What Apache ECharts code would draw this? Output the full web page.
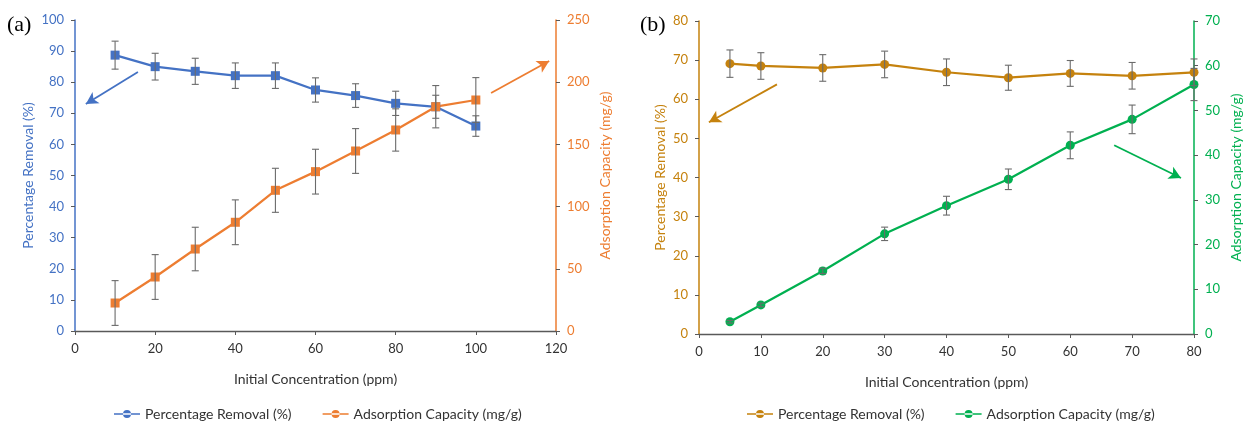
<!DOCTYPE html>
<html>
<head>
<meta charset="utf-8">
<script src="https://cdn.jsdelivr.net/npm/echarts@6/dist/echarts.min.js"></script>
<style>
html,body{margin:0;padding:0;background:#fff;}
#chart{width:1244px;height:425px;}
</style>
</head>
<body>
<div id="chart"></div>
<script>
// ---------- Data ----------
const concA = [10, 20, 30, 40, 50, 60, 70, 80, 90, 100];
const removalA = [88.7, 85.0, 83.5, 82.1, 82.1, 77.5, 75.7, 73.2, 72.1, 65.9];
const removalErrA = [4.5, 4.3, 4.2, 4.1, 4.1, 3.9, 3.8, 3.9, 3.7, 3.3];
const capacityA = [22.5, 43.4, 65.9, 87.4, 113.1, 128.1, 144.7, 161.6, 180.3, 185.7];
const capacityErrA = [18, 18, 17.5, 18, 17.7, 18, 18, 17, 17, 18];

const concB = [5, 10, 20, 30, 40, 50, 60, 70, 80];
const removalB = [69.1, 68.5, 68.0, 68.9, 66.9, 65.5, 66.6, 66.0, 66.9];
const removalErrB = [3.5, 3.4, 3.4, 3.4, 3.4, 3.2, 3.3, 3.4, 3.4];
const capacityB = [2.75, 6.5, 14.1, 22.4, 28.7, 34.6, 42.2, 48.0, 55.8];
const capacityErrB = [0.3, 0.4, 0.6, 1.5, 2.1, 2.3, 3.0, 3.2, 3.6];

const nameRemoval = 'Percentage Removal (%)';
const nameCapacity = 'Adsorption Capacity (mg/g)';
const xName = 'Initial Concentration (ppm)';
const panelLabels = ['(a)', '(b)'];

// annotation arrows (data coordinates)
const arrowRemovalA = [[15.7, 83.3], [2.7, 73.0]];
const arrowCapacityA = [[103.8, 191.3], [118.3, 217]];
const arrowRemovalB = [[12.6, 63.8], [1.6, 54.1]];
const arrowCapacityB = [[67.1, 42.2], [77.9, 34.9]];

// ---------- Style ----------
const FONT = 'Lato';
const cBlue = '#4472C4', cOrange = '#ED7D31', cBrown = '#C5820E', cGreen = '#00B050';
const cAxis = '#595959', cErr = '#6b6b6b';

const chart = echarts.init(document.getElementById('chart'), null, {renderer: 'canvas'});

function pairs(xs, ys) { return xs.map((x, i) => [x, ys[i]]); }
function errData(xs, ys, es) { return xs.map((x, i) => [x, ys[i] - es[i], ys[i] + es[i]]); }

function errSeries(xi, yi, data) {
  return {
    type: 'custom', xAxisIndex: xi, yAxisIndex: yi, silent: true, z: 5, clip: false,
    data: data,
    encode: {x: 0, y: [1, 2]},
    renderItem: function (params, api) {
      const lo = api.coord([api.value(0), api.value(1)]);
      const hi = api.coord([api.value(0), api.value(2)]);
      const w = 3.5;
      const st = {stroke: cErr, lineWidth: 1.1};
      return {type: 'group', children: [
        {type: 'line', shape: {x1: lo[0], y1: lo[1], x2: hi[0], y2: hi[1]}, style: st},
        {type: 'line', shape: {x1: lo[0] - w, y1: lo[1], x2: lo[0] + w, y2: lo[1]}, style: st},
        {type: 'line', shape: {x1: hi[0] - w, y1: hi[1], x2: hi[0] + w, y2: hi[1]}, style: st}
      ]};
    }
  };
}

function lineSeries(name, xi, yi, data, color, symbol, arrow) {
  return {
    name: name, type: 'line', xAxisIndex: xi, yAxisIndex: yi, data: data,
    symbol: symbol, symbolSize: 9, clip: false, z: 3,
    lineStyle: {color: color, width: 2.25},
    itemStyle: {color: color},
    emphasis: {disabled: true},
    markLine: {
      silent: true, symbol: ['none', 'arrow'], symbolSize: [10, 12],
      label: {show: false},
      lineStyle: {color: color, width: 1.8, type: 'solid'},
      data: [[{coord: arrow[0]}, {coord: arrow[1]}]]
    }
  };
}

function xAxisCfg(gi, max, interval) {
  return {
    type: 'value', gridIndex: gi, min: 0, max: max, interval: interval,
    name: xName, nameLocation: 'middle', nameGap: 41,
    nameTextStyle: {fontFamily: FONT, fontSize: 14, color: '#333'},
    axisLine: {show: true, onZero: false, lineStyle: {color: cAxis, width: 1.3}},
    axisTick: {show: true, length: 4, lineStyle: {color: cAxis}},
    axisLabel: {fontFamily: FONT, fontSize: 13, color: '#333', margin: 11},
    splitLine: {show: false}
  };
}

function yAxisCfg(gi, pos, max, interval, name, color, gap) {
  return {
    type: 'value', gridIndex: gi, position: pos, min: 0, max: max, interval: interval,
    name: name, nameLocation: 'middle', nameGap: gap, nameRotate: 90,
    nameTextStyle: {fontFamily: FONT, fontSize: 14, color: color},
    axisLine: {show: true, lineStyle: {color: color, width: 1.5}},
    axisTick: {show: true, length: 4, lineStyle: {color: cAxis}},
    axisLabel: {fontFamily: FONT, fontSize: 13, color: color, margin: 11},
    splitLine: {show: false}
  };
}

const legendIcon = 'path://M0,3.3h26v1.4h-26z M13,0a4,4 0 1,0 0.01,0z';

const option = {
  animation: false,
  backgroundColor: '#ffffff',
  grid: [
    {left: 75, right: 688, top: 20, bottom: 94},
    {left: 699, right: 49, top: 21, bottom: 91}
  ],
  xAxis: [xAxisCfg(0, 120, 20), xAxisCfg(1, 80, 10)],
  yAxis: [
    yAxisCfg(0, 'left', 100, 10, nameRemoval, cBlue, 40),
    yAxisCfg(0, 'right', 250, 50, nameCapacity, cOrange, 42),
    yAxisCfg(1, 'left', 80, 10, nameRemoval, cBrown, 32),
    yAxisCfg(1, 'right', 70, 10, nameCapacity, cGreen, 35)
  ],
  legend: [
    {
      left: 109, top: 402, itemWidth: 26, itemHeight: 8, itemGap: 31, selectedMode: false,
      icon: legendIcon,
      textStyle: {fontFamily: FONT, fontSize: 14, color: '#333'},
      data: ['a:' + nameRemoval, 'a:' + nameCapacity],
      formatter: n => n.slice(2)
    },
    {
      left: 742, top: 402, itemWidth: 26, itemHeight: 8, itemGap: 31, selectedMode: false,
      icon: legendIcon,
      textStyle: {fontFamily: FONT, fontSize: 14, color: '#333'},
      data: ['b:' + nameRemoval, 'b:' + nameCapacity],
      formatter: n => n.slice(2)
    }
  ],
  graphic: [
    {type: 'text', left: 7, top: 14, style: {text: panelLabels[0], fontFamily: 'Liberation Serif', fontSize: 22, fill: '#000'}},
    {type: 'text', left: 640, top: 14, style: {text: panelLabels[1], fontFamily: 'Liberation Serif', fontSize: 22, fill: '#000'}}
  ],
  series: [
    lineSeries('a:' + nameRemoval, 0, 0, pairs(concA, removalA), cBlue, 'rect', arrowRemovalA),
    lineSeries('a:' + nameCapacity, 0, 1, pairs(concA, capacityA), cOrange, 'rect', arrowCapacityA),
    errSeries(0, 0, errData(concA, removalA, removalErrA)),
    errSeries(0, 1, errData(concA, capacityA, capacityErrA)),
    lineSeries('b:' + nameRemoval, 1, 2, pairs(concB, removalB), cBrown, 'circle', arrowRemovalB),
    lineSeries('b:' + nameCapacity, 1, 3, pairs(concB, capacityB), cGreen, 'circle', arrowCapacityB),
    errSeries(1, 2, errData(concB, removalB, removalErrB)),
    errSeries(1, 3, errData(concB, capacityB, capacityErrB))
  ]
};
chart.setOption(option);
</script>
</body>
</html>
